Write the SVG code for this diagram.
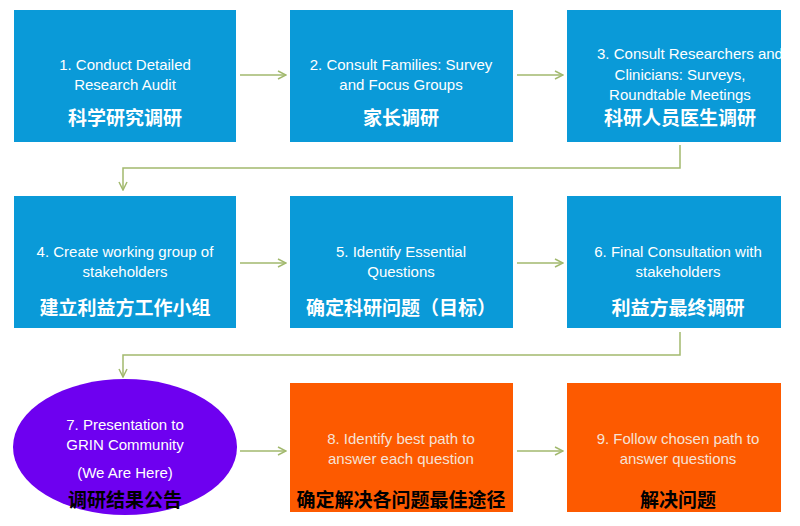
<svg xmlns="http://www.w3.org/2000/svg" width="800" height="526" viewBox="0 0 800 526">
<defs>
<style>
.b{fill:#0a9ad8}
.o{fill:#fd5a00}
.t{font-family:"Liberation Sans","Open Sans",sans-serif;font-size:15px;fill:#fff;text-anchor:middle}
.to{font-family:"Liberation Sans","Open Sans",sans-serif;font-size:15px;fill:#f6e2d6;text-anchor:middle}
.c{font-family:"Noto Sans CJK SC",sans-serif;font-size:19px;font-weight:bold;fill:#fff;text-anchor:middle}
.k{font-family:"Noto Sans CJK SC",sans-serif;font-size:19px;font-weight:bold;fill:#000;text-anchor:middle}
.l{fill:none;stroke:#a2b96e;stroke-width:1.5}
</style>
<marker id="a" viewBox="0 0 10 10" refX="9" refY="5" markerWidth="10" markerHeight="10" markerUnits="userSpaceOnUse" orient="auto"><path d="M1,1 L9,5 L1,9" fill="none" stroke="#a2b96e" stroke-width="1.5"/></marker>
</defs>
<rect width="800" height="526" fill="#fff"/>
<g id="connectors">
<line class="l" x1="240" y1="75" x2="286" y2="75" marker-end="url(#a)"/>
<line class="l" x1="517" y1="75" x2="563" y2="75" marker-end="url(#a)"/>
<polyline class="l" points="680,145 680,168 123,168 123,190" marker-end="url(#a)"/>
<line class="l" x1="240" y1="263" x2="286" y2="263" marker-end="url(#a)"/>
<line class="l" x1="517" y1="263" x2="563" y2="263" marker-end="url(#a)"/>
<polyline class="l" points="680,332 680,355 123,355 123,377" marker-end="url(#a)"/>
<line class="l" x1="240" y1="451" x2="286" y2="451" marker-end="url(#a)"/>
<line class="l" x1="517" y1="451" x2="563" y2="451" marker-end="url(#a)"/>
</g>
<g id="n1"><rect class="b" x="14" y="10" width="222" height="132"/><text class="t" x="125" y="70">1. Conduct Detailed</text><text class="t" x="125" y="90">Research Audit</text><text class="c" x="125" y="125">科学研究调研</text></g>
<g id="n2"><rect class="b" x="290" y="10" width="223" height="132"/><text class="t" x="401" y="70">2. Consult Families: Survey</text><text class="t" x="401" y="90">and Focus Groups</text><text class="c" x="401" y="125">家长调研</text></g>
<g id="n3"><rect class="b" x="567" y="10" width="214" height="132"/><text class="t" x="690" y="59">3. Consult Researchers and</text><text class="t" x="680" y="80">Clinicians: Surveys,</text><text class="t" x="680" y="100">Roundtable Meetings</text><text class="c" x="680" y="125">科研人员医生调研</text></g>
<g id="n4"><rect class="b" x="14" y="196" width="222" height="132"/><text class="t" x="125" y="257">4. Create working group of</text><text class="t" x="125" y="277">stakeholders</text><text class="c" x="125" y="315">建立利益方工作小组</text></g>
<g id="n5"><rect class="b" x="290" y="196" width="223" height="132"/><text class="t" x="401" y="257">5. Identify Essential</text><text class="t" x="401" y="277">Questions</text><text class="c" x="401" y="315">确定科研问题（目标）</text></g>
<g id="n6"><rect class="b" x="567" y="196" width="214" height="132"/><text class="t" x="678" y="257">6.  Final Consultation with</text><text class="t" x="678" y="277">stakeholders</text><text class="c" x="678" y="315">利益方最终调研</text></g>
<g id="n7"><ellipse cx="125" cy="447" rx="112" ry="68" fill="#6e00f0"/><text class="t" x="125" y="430">7. Presentation to</text><text class="t" x="125" y="450">GRIN Community</text><text class="t" x="125" y="478">(We Are Here)</text><text class="k" x="125" y="507">调研结果公告</text></g>
<g id="n8"><rect class="o" x="290" y="383" width="223" height="129"/><text class="to" x="401" y="444">8. Identify best path to</text><text class="to" x="401" y="464">answer each question</text><text class="k" x="401" y="507">确定解决各问题最佳途径</text></g>
<g id="n9"><rect class="o" x="567" y="383" width="214" height="129"/><text class="to" x="678" y="444">9. Follow chosen path to</text><text class="to" x="678" y="464">answer questions</text><text class="k" x="678" y="507">解决问题</text></g>
</svg>
